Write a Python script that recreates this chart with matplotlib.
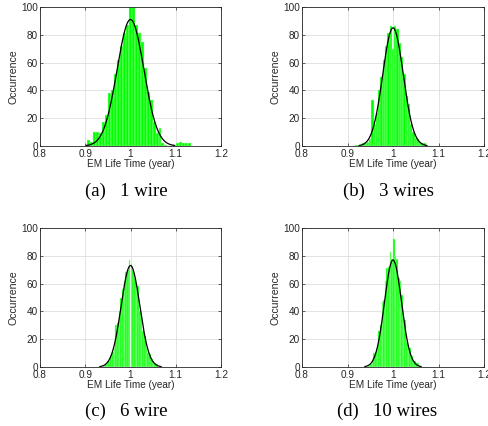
import numpy as np
import matplotlib
matplotlib.use("Agg")
import matplotlib.pyplot as plt

# ---- data -------------------------------------------------------------
# histogram bin starts, bin widths and counts for each panel
a_start, a_width = 0.9035, 0.0066
a_counts = [4, 3, 10, 10, 9, 17, 22, 38, 40, 52, 62, 72, 81, 87, 100, 100, 87,
            81, 75, 56, 39, 33, 17, 9, 13, 2, 1, 0, 0, 1, 2, 3, 2, 2, 2, 0]
b_start, b_width = 0.9175, 0.005
b_counts = [1, 1, 1, 2, 2, 3, 5, 33, 16, 24, 40, 50, 62, 72, 81, 86, 70, 86,
            84, 74, 64, 52, 36, 30, 16, 10, 6, 5, 2, 2, 2, 1]
c_start, c_width = 0.94, 0.00375
c_counts = [1, 2, 4, 4, 8, 11, 14, 30, 32, 40, 50, 56, 62, 68, 70, 77, 74, 70,
            64, 56, 58, 40, 38, 26, 22, 14, 10, 9, 6, 4, 3, 2]
d_start, d_width = 0.946, 0.0036
d_counts = [1, 2, 6, 10, 11, 14, 26, 30, 47, 48, 62, 71, 72, 83, 78, 92, 80,
            78, 64, 62, 52, 36, 34, 18, 16, 14, 8, 5, 4, 3, 3, 1]

# fitted normal curves: (mean, std, peak height)
a_fit = (1.0, 0.0295, 91)
b_fit = (1.0, 0.0225, 85)
c_fit = (1.0, 0.0205, 73)
d_fit = (1.0, 0.0187, 77)

captions = ["(a)   1 wire", "(b)   3 wires", "(c)   6 wire", "(d)   10 wires"]
xticks = [0.8, 0.9, 1.0, 1.1, 1.2]
xtick_labels = ["0.8", "0.9", "1", "1.1", "1.2"]
yticks = [0, 20, 40, 60, 80, 100]
xlabel = "EM Life Time (year)"
ylabel = "Occurrence"

# ---- figure -----------------------------------------------------------
W, H = 489, 426
fig = plt.figure(figsize=(W / 100, H / 100), dpi=100)
plt.rcParams["font.family"] = ["Liberation Sans", "DejaVu Sans"]

panels = [
    (a_start, a_width, a_counts, a_fit, (40, 7, 221, 146), (126, 191)),
    (b_start, b_width, b_counts, b_fit, (302, 7, 484, 146), (388.5, 191)),
    (c_start, c_width, c_counts, c_fit, (40, 228, 221, 367), (126, 411.5)),
    (d_start, d_width, d_counts, d_fit, (302, 228, 484, 367), (387.5, 411.5)),
]

txt = (0.15, 0.15, 0.15)
for (start, width, counts, fit, box, cap), caption in zip(panels, captions):
    x0, y0, x1, y1 = box
    ax = fig.add_axes([x0 / W, 1 - y1 / H, (x1 - x0) / W, (y1 - y0) / H])
    counts = np.asarray(counts, dtype=float)
    lefts = start + width * np.arange(len(counts))
    ax.bar(lefts, counts, width=width, align="edge", color=(0, 1, 0),
           edgecolor=(0.75, 1, 0.75), linewidth=0.3, zorder=2)
    mu, sd, peak = fit
    xs = np.linspace(mu - 3.3 * sd, mu + 3.3 * sd, 300)
    ax.plot(xs, peak * np.exp(-0.5 * ((xs - mu) / sd) ** 2), color="black",
            linewidth=0.9, zorder=3)
    ax.set_xlim(0.8, 1.2)
    ax.set_ylim(0, 100)
    ax.set_xticks(xticks)
    ax.set_xticklabels(xtick_labels)
    ax.set_yticks(yticks)
    ax.grid(True, color=(0.87, 0.87, 0.87), linewidth=0.6, zorder=0)
    ax.set_axisbelow(True)
    ax.tick_params(direction="in", length=2.5, width=0.5, colors=txt,
                   labelsize=7.2, top=True, right=True)
    ax.tick_params(axis="x", pad=2.2)
    ax.tick_params(axis="y", pad=1.5)
    for s in ax.spines.values():
        s.set_color(txt)
        s.set_linewidth(0.6)
    ax.set_xlabel(xlabel, fontsize=7.2, color=txt, labelpad=0.3)
    ax.set_ylabel(ylabel, fontsize=7.6, color=txt, labelpad=2)
    fig.text(cap[0] / W, 1 - cap[1] / H, caption, ha="center", va="center",
             fontsize=13.5, family=["Liberation Serif", "DejaVu Serif"])

fig.savefig("out.png", dpi=100)
